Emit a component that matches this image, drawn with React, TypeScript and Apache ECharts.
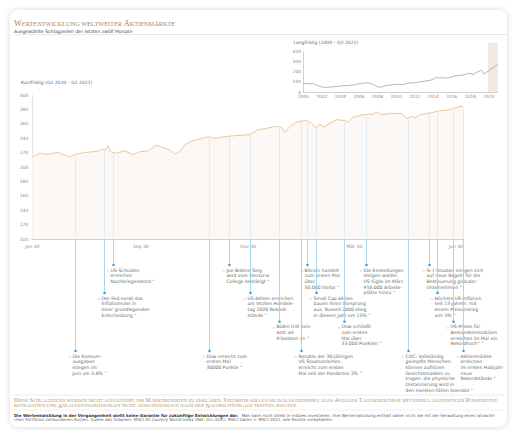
import React, { useEffect, useRef } from "react";
import * as echarts from "echarts";

// ---- Short-term series (days since 30 Jun 2020, index value) ----
const shortDays = [0, 6.3, 13.3, 21.8, 27.5, 31.7, 37.3, 45.8, 55.7, 58.5, 61.9, 64.2, 66.1, 71.2, 78.3, 85.3, 91, 98, 105, 112.2, 116.4, 120.7, 124.9, 129.2, 134.7, 140.4, 148.9, 154.6, 163, 171.5, 180, 184.5, 191.5, 197.2, 204.2, 208.5, 211.4, 214.2, 218.4, 224.1, 232.5, 236.8, 241, 243.8, 246.6, 250.8, 258, 265, 267.8, 272, 280.5, 289, 291.9, 296.1, 303.1, 311.6, 314.4, 317.3, 321.5, 324.3, 328.6, 337, 345.5, 352.5, 356.8, 362.5, 365];
const shortValues = [214, 219, 217.6, 220.4, 216.7, 213.9, 218, 220.4, 221.8, 225, 223.6, 229.6, 221.3, 219, 222.6, 217.1, 221.3, 222.2, 230.6, 226, 223.6, 218, 221.3, 230.6, 236.1, 238.4, 242.1, 239.8, 242.1, 243.5, 244.4, 245, 251.9, 253.2, 255.6, 256.5, 254.2, 248.1, 256.5, 262.5, 264.8, 260.2, 254.2, 259.7, 255.1, 259.7, 265.7, 264.4, 262.5, 269, 272.7, 273.6, 276.4, 272.7, 274.5, 274.5, 272.7, 267.1, 270.4, 268, 272.7, 275, 278.2, 279.2, 281, 284.3, 284.3];
const shortTickDays = [0, 92, 183, 273, 365];
const shortTickLabels = ["Jun 30", "Sep 30", "Dez 30", "Mär 30", "Jun 30"];

// ---- Long-term series (year, index value) ----
const longYears = [2000, 2000.54, 2001.08, 2001.43, 2001.97, 2002.33, 2003.05, 2003.76, 2004.48, 2005.2, 2005.73, 2006.27, 2006.81, 2007.17, 2007.53, 2007.89, 2008.17, 2008.6, 2009.14, 2009.68, 2010.22, 2010.75, 2011.29, 2012.01, 2012.72, 2013.44, 2013.98, 2014.34, 2014.7, 2014.95, 2015.23, 2015.77, 2016.31, 2017.03, 2017.56, 2017.92, 2018.28, 2018.64, 2019.18, 2019.43, 2019.9, 2020.25, 2020.6, 2020.95];
const longValues = [88, 80, 83, 67, 52, 45, 50, 57, 63, 67, 77, 83, 92, 88, 75, 58, 45, 57, 67, 73, 77, 73, 87, 93, 103, 113, 123, 147, 137, 147, 137, 143, 160, 167, 177, 187, 173, 193, 217, 178, 205, 228, 248, 277];
const longYearTicks = [2000, 2002, 2004, 2006, 2008, 2010, 2012, 2014, 2016, 2018, 2020];
const longBand = [2019.9, 2020.95];

// ---- Headlines ----
const headlineDays = [36.4, 60.8, 68.6, 149.7, 166.9, 184.2, 209.3, 227.7, 233.1, 240.7, 264.4, 283.1, 318.6, 336.4, 342.7, 356.8, 364.7];
const headlineLevels = [3, 1, 0, 3, 0, 1, 2, 3, 0, 1, 2, 0, 3, 0, 1, 2, 3];
const headlineTexts = [
  ["Die Konsum-", "ausgaben", "stiegen im", "Juni um 5,6% “"],
  ["Der Fed senkt das", "Inflationsziel in", "einer grundlegenden", "Entscheidung “"],
  ["US-Schulden", "erreichen", "Nachkriegsrekord “"],
  ["Dow erreicht zum", "ersten Mal", "30000 Punkte “"],
  ["Joe Bidens Sieg", "wird vom Electoral", "College bestätigt “"],
  ["US-Aktien erreichen", "am letzten Handels-", "tag 2020 Rekord-", "stände “"],
  ["Biden tritt sein", "Amt als", "Präsident an “"],
  ["Rendite der 30-jährigen", "US Staatsanleihen", "erreicht zum ersten", "Mal seit der Pandemie 2% “"],
  ["Bitcoin handelt", "zum ersten Mal", "über", "50.000 Dollar “"],
  ["Small Cap Aktien", "bauen ihren Vorsprung", "aus; Russell 2000 stieg", "in diesem Jahr um 15% “"],
  ["Dow schließt", "zum ersten", "Mal über", "33.000 Punkten “"],
  ["Die Einstellungen", "steigen wieder,", "US fügte im März", "916.000 Arbeits-", "plätze hinzu “"],
  ["CDC: Vollständig", "geimpfte Menschen", "können aufhören", "Gesichtsmasken zu", "tragen, die physische", "Distanzierung wird in", "den meisten Fällen beendet “"],
  ["G-7-Staaten einigen sich", "auf neue Regeln für die", "Besteuerung globaler", "Unternehmen “"],
  ["Höchste US-Inflation", "seit 13 Jahren, mit", "einem Preisanstieg", "von 5% “"],
  ["US-Preise für", "Bestandsimmobilien", "erreichen im Mai ein", "Rekordhoch“ “"],
  ["Aktienmärkte", "erreichen", "im ersten Halbjahr", "neue", "Rekordstände “"],
];

const TITLE = "Wertentwicklung weltweiter Aktienmärkte";
const SUBTITLE = "Ausgewählte Schlagzeilen der letzten zwölf Monate";
const SHORT_TITLE = "Kurzfristig (Q2 2020 – Q2 2021)";
const LONG_TITLE = "Langfristig (2000 – Q2 2021)";
const NOTE_1 = "Diese Schlagzeilen wurden nicht aufgeführt, um Marktrenditen zu erklären. Vielmehr sollen sie daran erinnern, dass Anleger Tagesereignisse mit einer langfristigen Perspektive";
const NOTE_2 = "betrachten und Anlageentscheidungen nicht ausschließlich nach der Nachrichtenlage treffen sollten.";
const DISC_BOLD = "Die Wertentwicklung in der Vergangenheit stellt keine Garantie für zukünftige Entwicklungen dar.";
const DISC_1 = "Man kann nicht direkt in Indizes investieren. Ihre Wertentwicklung enthält daher nicht die mit der Verwaltung eines tatsächli-";
const DISC_2 = "chen Portfolios verbundenen Kosten. Quelle des Graphen: MSCI All Country World Index (Net. Div.,EUR). MSCI Daten © MSCI 2021, alle Rechte vorbehalten.";

const SANS = '"DejaVu Sans", Verdana, sans-serif';
const SERIF = '"Liberation Serif", "Times New Roman", serif';
const LEVEL_Y = [265, 293, 321.7, 351];

function smallCaps(s: string): string {
  let out = "";
  let cur = "";
  let mode = "";
  for (const ch of s) {
    const isUpper = ch !== ch.toLowerCase();
    const m = isUpper ? "b" : "s";
    if (m !== mode && cur) {
      out += `{${mode}|${cur}}`;
      cur = "";
    }
    mode = m;
    cur += isUpper ? ch : ch.toUpperCase();
  }
  if (cur) out += `{${mode}|${cur}}`;
  return out;
}

function valueAt(day: number): number {
  for (let i = 1; i < shortDays.length; i++) {
    if (day <= shortDays[i]) {
      const t = (day - shortDays[i - 1]) / (shortDays[i] - shortDays[i - 1]);
      return shortValues[i - 1] + t * (shortValues[i] - shortValues[i - 1]);
    }
  }
  return shortValues[shortValues.length - 1];
}

export default function App() {
  const ref = useRef<HTMLDivElement>(null);
  useEffect(() => {
    if (!ref.current) return;
    const chart = echarts.init(ref.current, undefined, { renderer: "svg" });
    const axisLabelStyle = { color: "#8a8a8a", fontSize: 4.5, fontFamily: SANS };
    const gold = "#ad9268";
    const option: any = {
      animation: false,
      grid: [
        { left: 32.3, right: 52, top: 95, bottom: 192 },
        { left: 303.3, width: 194.4, top: 51.7, height: 40.3 },
      ],
      xAxis: [
        {
          gridIndex: 0, type: "value", min: 0, max: 365,
          axisLine: { lineStyle: { color: "#d8d0c5", width: 2 } },
          axisTick: { show: false }, splitLine: { show: false },
          axisLabel: {
            ...axisLabelStyle, margin: 4.5,
            customValues: shortTickDays,
            formatter: (v: number) => { const i = shortTickDays.indexOf(v); return i >= 0 ? shortTickLabels[i] : ""; },
            alignMaxLabel: "right",
          },
        },
        {
          gridIndex: 1, type: "value", min: 2000, max: longBand[1],
          axisLine: { lineStyle: { color: "#c4c4c4", width: 0.8 } },
          axisTick: { show: false }, splitLine: { show: false },
          axisLabel: { ...axisLabelStyle, fontSize: 4.4, margin: 2.5, customValues: longYearTicks, formatter: (v: number) => String(v) },
        },
      ],
      yAxis: [
        {
          gridIndex: 0, type: "value", min: 100, max: 300, interval: 20,
          axisLine: { show: true, lineStyle: { color: "#dedede", width: 0.8 } },
          axisTick: { show: false }, splitLine: { show: false },
          axisLabel: { ...axisLabelStyle, margin: 4 },
        },
        {
          gridIndex: 1, type: "value", min: 0, max: 400, interval: 100,
          axisLine: { show: true, lineStyle: { color: "#c4c4c4", width: 0.8 } },
          axisTick: { show: false }, splitLine: { show: false },
          axisLabel: { ...axisLabelStyle, fontSize: 4.4, margin: 2.3 },
        },
      ],
      series: [
        {
          type: "line", xAxisIndex: 0, yAxisIndex: 0, z: 2,
          data: shortDays.map((d, i) => [d, shortValues[i]]),
          showSymbol: false, symbol: "none",
          lineStyle: { color: "#ebc79c", width: 1 },
          areaStyle: { color: "#fbf8f5", opacity: 1 },
        },
        {
          type: "custom", xAxisIndex: 0, yAxisIndex: 0, z: 3, clip: false, silent: true,
          data: headlineDays.map((d, i) => [d, valueAt(d), headlineLevels[i]]),
          renderItem: (params: any, api: any) => {
            const i = params.dataIndex;
            const day = api.value(0);
            const top = api.coord([day, api.value(1)]);
            const base = api.coord([day, 100]);
            const dotY = LEVEL_Y[api.value(2)];
            const x = Math.round(top[0]) + 0.5;
            return {
              type: "group",
              children: [
                { type: "line", shape: { x1: x, y1: top[1] + 1, x2: x, y2: base[1] - 1 }, style: { stroke: "#dbeaf3", lineWidth: 0.9 } },
                { type: "line", shape: { x1: x, y1: base[1] + 1, x2: x, y2: dotY }, style: { stroke: "#9ed3f1", lineWidth: 0.9 } },
                { type: "rect", shape: { x: x - 1.1, y: dotY - 1.1, width: 2.2, height: 2.2 }, style: { fill: "#2f9ee2" } },
                { type: "text", x: x - 7, y: dotY + 2.4, style: { text: "„", fill: "#777", fontSize: 4.6, fontFamily: SANS, verticalAlign: "top" } },
                {
                  type: "text", x: x - 3, y: dotY + 2.2,
                  style: { text: headlineTexts[i].join("\n"), fill: "#6a6a6a", fontSize: 4.6, fontFamily: SANS, lineHeight: 5.7, verticalAlign: "top", align: "left" },
                },
              ],
            };
          },
        },
        {
          type: "custom", xAxisIndex: 1, yAxisIndex: 1, z: 1, clip: false, silent: true,
          data: [[longBand[0], longBand[1]]],
          renderItem: (params: any, api: any) => {
            const p1 = api.coord([api.value(0), 0]);
            const p2 = api.coord([api.value(1), 0]);
            return { type: "rect", shape: { x: p1[0], y: 42.7, width: p2[0] - p1[0], height: p1[1] - 42.7 }, style: { fill: "#f1e9de" } };
          },
        },
        {
          type: "line", xAxisIndex: 1, yAxisIndex: 1, z: 2,
          data: longYears.map((y, i) => [y, longValues[i]]),
          showSymbol: false, symbol: "none",
          lineStyle: { color: "#a3a3a3", width: 0.8 },
        },
      ],
      graphic: [
        {
          type: "text", x: 14, y: 23.5,
          style: {
            text: smallCaps(TITLE), verticalAlign: "middle",
            rich: {
              b: { fontSize: 8.3, fontFamily: SERIF, fill: "#a4885e", lineHeight: 8.6 },
              s: { fontSize: 6.3, fontFamily: SERIF, fill: "#a4885e", lineHeight: 7.4 },
            },
          },
        },
        { type: "text", x: 14, y: 31, style: { text: SUBTITLE, fontSize: 4.6, fontFamily: SANS, fill: "#444", verticalAlign: "middle" } },
        { type: "line", shape: { x1: 14, y1: 34.5, x2: 507, y2: 34.5 }, style: { stroke: "#e2e2e2", lineWidth: 0.8 } },
        { type: "text", x: 21, y: 82, style: { text: SHORT_TITLE, fontSize: 4.5, fontFamily: SANS, fill: "#666", verticalAlign: "middle" } },
        { type: "text", x: 293.5, y: 42.3, style: { text: LONG_TITLE, fontSize: 4.5, fontFamily: SANS, fill: "#666", verticalAlign: "middle" } },
        { type: "line", shape: { x1: 14, y1: 395, x2: 505, y2: 395 }, style: { stroke: "#e6e6e6", lineWidth: 0.8 } },
        ...[NOTE_1, NOTE_2].map((t, k) => ({
          type: "text", x: 14, y: 400.3 + k * 5.3,
          style: {
            text: smallCaps(t), verticalAlign: "middle",
            rich: {
              b: { fontSize: 6.05, fontFamily: SERIF, fill: gold, lineHeight: 6.1 },
              s: { fontSize: 4.72, fontFamily: SERIF, fill: gold, lineHeight: 5.3 },
            },
          },
        })),
        { type: "line", shape: { x1: 14, y1: 410, x2: 505, y2: 410 }, style: { stroke: "#ececec", lineWidth: 0.8 } },
        {
          type: "text", x: 14, y: 415,
          style: {
            text: `{bo|${DISC_BOLD}} {r|${DISC_1}}`, verticalAlign: "middle",
            rich: {
              bo: { fontSize: 4.05, fontFamily: SANS, fontWeight: "bold", fill: "#333" },
              r: { fontSize: 4.05, fontFamily: SANS, fill: "#666" },
            },
          },
        },
        { type: "text", x: 14, y: 419.6, style: { text: DISC_2, fontSize: 4.1, fontFamily: SANS, fill: "#666", verticalAlign: "middle" } },
      ],
    };
    chart.setOption(option);
    return () => chart.dispose();
  }, []);

  return (
    <div style={{ position: "fixed", left: 0, top: 0, width: 515, height: 431, background: "#fff", overflow: "hidden" }}>
      <div style={{ position: "absolute", left: 10, top: 10, width: 497, height: 417, borderRadius: 8, background: "#fff", boxShadow: "0 0 6px rgba(0,0,0,0.16)" }} />
      <div ref={ref} style={{ position: "absolute", left: 0, top: 0, width: 515, height: 431 }} />
    </div>
  );
}
